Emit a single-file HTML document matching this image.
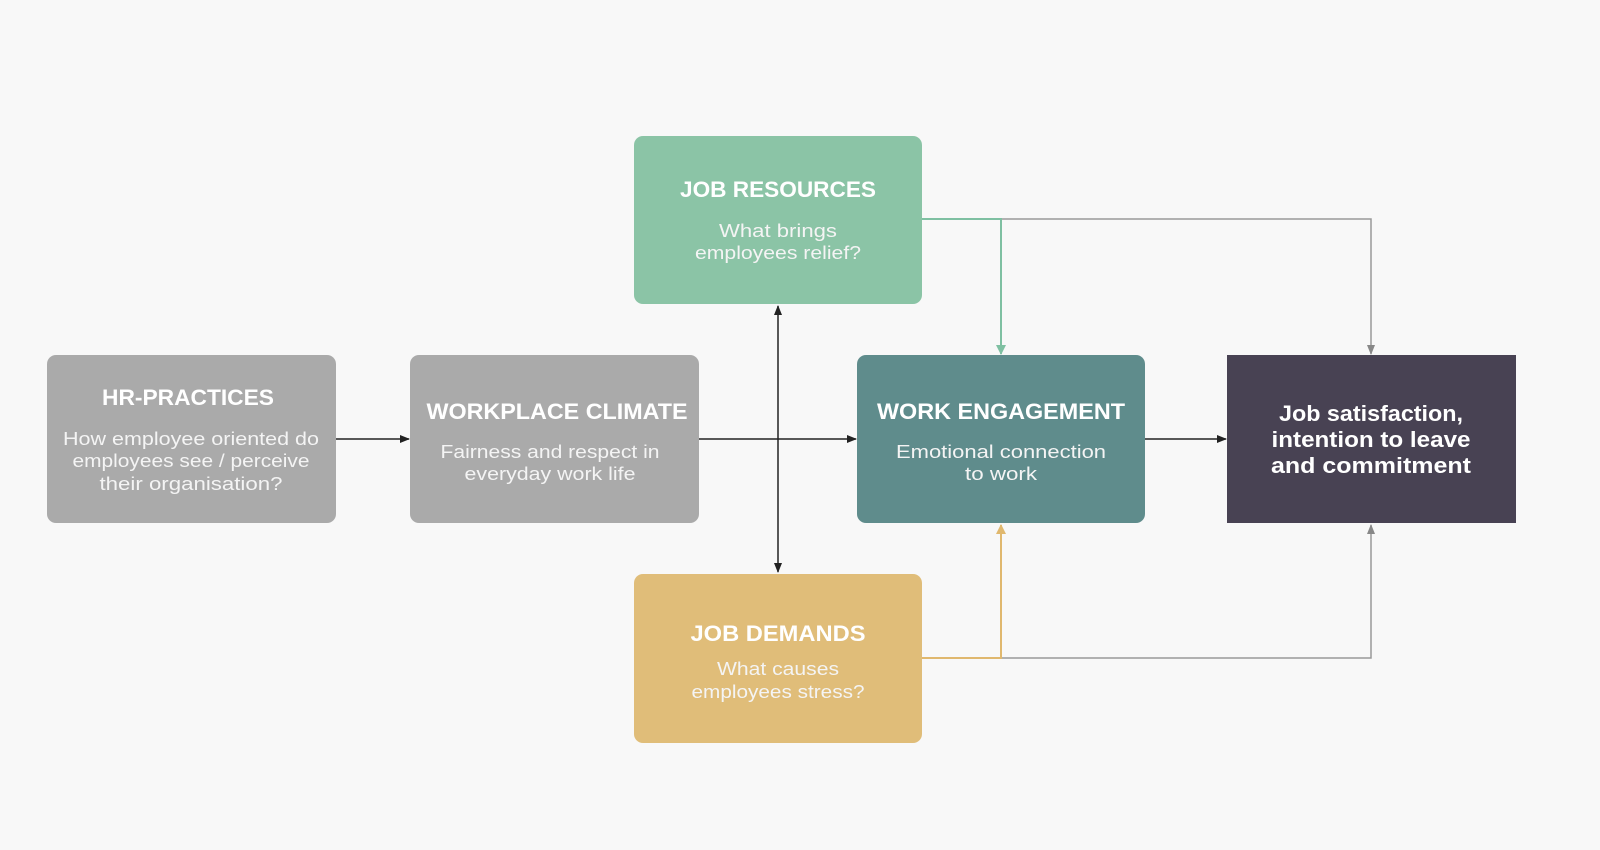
<!DOCTYPE html>
<html><head><meta charset="utf-8"><style>
html,body{margin:0;padding:0;background:#f8f8f8;}
svg{display:block;font-family:"Liberation Sans",sans-serif;}
.t{font-weight:bold;font-size:22px;fill:#fff;text-anchor:middle;}
.b{font-size:18px;fill:#f4f4f4;text-anchor:middle;}
.d{font-weight:bold;font-size:22px;fill:#fff;text-anchor:middle;}
</style></head><body>
<svg width="1600" height="850" viewBox="0 0 1600 850">
<defs>
<marker id="ak" markerWidth="10" markerHeight="10" refX="9" refY="5" orient="auto-start-reverse" markerUnits="userSpaceOnUse"><path d="M0,1 L10,5 L0,9 z" fill="#222"/></marker>
<marker id="ag" markerWidth="10" markerHeight="12" refX="9" refY="6" orient="auto" markerUnits="userSpaceOnUse"><path d="M0,1 L10,6 L0,11 z" fill="#7fc0a2"/></marker>
<marker id="ay" markerWidth="10" markerHeight="12" refX="9" refY="6" orient="auto" markerUnits="userSpaceOnUse"><path d="M0,1 L10,6 L0,11 z" fill="#e0b86e"/></marker>
<marker id="agr" markerWidth="10" markerHeight="10" refX="9" refY="5" orient="auto" markerUnits="userSpaceOnUse"><path d="M0,1 L10,5 L0,9 z" fill="#888"/></marker>
</defs>
<line x1="336" y1="439" x2="409" y2="439" stroke="#222" stroke-width="1.5" marker-end="url(#ak)"/>
<line x1="699" y1="439" x2="856" y2="439" stroke="#222" stroke-width="1.5" marker-end="url(#ak)"/>
<line x1="1145" y1="439" x2="1226" y2="439" stroke="#222" stroke-width="1.5" marker-end="url(#ak)"/>
<line x1="778" y1="306" x2="778" y2="572" stroke="#222" stroke-width="1.5" marker-start="url(#ak)" marker-end="url(#ak)"/>
<polyline points="1001,219 1371,219 1371,354" fill="none" stroke="#999" stroke-width="1.5" marker-end="url(#agr)"/>
<polyline points="922,219 1001,219 1001,354" fill="none" stroke="#7fc0a2" stroke-width="2" marker-end="url(#ag)"/>
<polyline points="1001,658 1371,658 1371,525" fill="none" stroke="#999" stroke-width="1.5" marker-end="url(#agr)"/>
<polyline points="922,658 1001,658 1001,525" fill="none" stroke="#e0b86e" stroke-width="2" marker-end="url(#ay)"/>
<rect x="47" y="355" width="289" height="168" rx="9" fill="#aaaaaa"/>
<rect x="410" y="355" width="289" height="168" rx="9" fill="#aaaaaa"/>
<rect x="634" y="136" width="288" height="168" rx="9" fill="#8bc4a6"/>
<rect x="857" y="355" width="288" height="168" rx="9" fill="#5f8c8c"/>
<rect x="1227" y="355" width="289" height="168" fill="#484253"/>
<rect x="634" y="574" width="288" height="169" rx="9" fill="#e0bd79"/>
<text class="t" x="188" y="405" textLength="172" lengthAdjust="spacingAndGlyphs">HR-PRACTICES</text>
<text class="b" x="191" y="445" textLength="256" lengthAdjust="spacingAndGlyphs">How employee oriented do</text>
<text class="b" x="191" y="467" textLength="237" lengthAdjust="spacingAndGlyphs">employees see / perceive</text>
<text class="b" x="191" y="490" textLength="183" lengthAdjust="spacingAndGlyphs">their organisation?</text>
<text class="t" x="557" y="419" textLength="261" lengthAdjust="spacingAndGlyphs">WORKPLACE CLIMATE</text>
<text class="b" x="550" y="458" textLength="219" lengthAdjust="spacingAndGlyphs">Fairness and respect in</text>
<text class="b" x="550" y="480" textLength="171" lengthAdjust="spacingAndGlyphs">everyday work life</text>
<text class="t" x="778" y="197" textLength="196" lengthAdjust="spacingAndGlyphs">JOB RESOURCES</text>
<text class="b" x="778" y="237" textLength="118" lengthAdjust="spacingAndGlyphs">What brings</text>
<text class="b" x="778" y="259" textLength="166" lengthAdjust="spacingAndGlyphs">employees relief?</text>
<text class="t" x="1001" y="419" textLength="248" lengthAdjust="spacingAndGlyphs">WORK ENGAGEMENT</text>
<text class="b" x="1001" y="458" textLength="210" lengthAdjust="spacingAndGlyphs">Emotional connection</text>
<text class="b" x="1001" y="480" textLength="72" lengthAdjust="spacingAndGlyphs">to work</text>
<text class="d" x="1371" y="421" textLength="184" lengthAdjust="spacingAndGlyphs">Job satisfaction,</text>
<text class="d" x="1371" y="447" textLength="199" lengthAdjust="spacingAndGlyphs">intention to leave</text>
<text class="d" x="1371" y="473" textLength="200" lengthAdjust="spacingAndGlyphs">and commitment</text>
<text class="t" x="778" y="641" textLength="175" lengthAdjust="spacingAndGlyphs">JOB DEMANDS</text>
<text class="b" x="778" y="675" textLength="122" lengthAdjust="spacingAndGlyphs">What causes</text>
<text class="b" x="778" y="698" textLength="173" lengthAdjust="spacingAndGlyphs">employees stress?</text>
</svg>
</body></html>
